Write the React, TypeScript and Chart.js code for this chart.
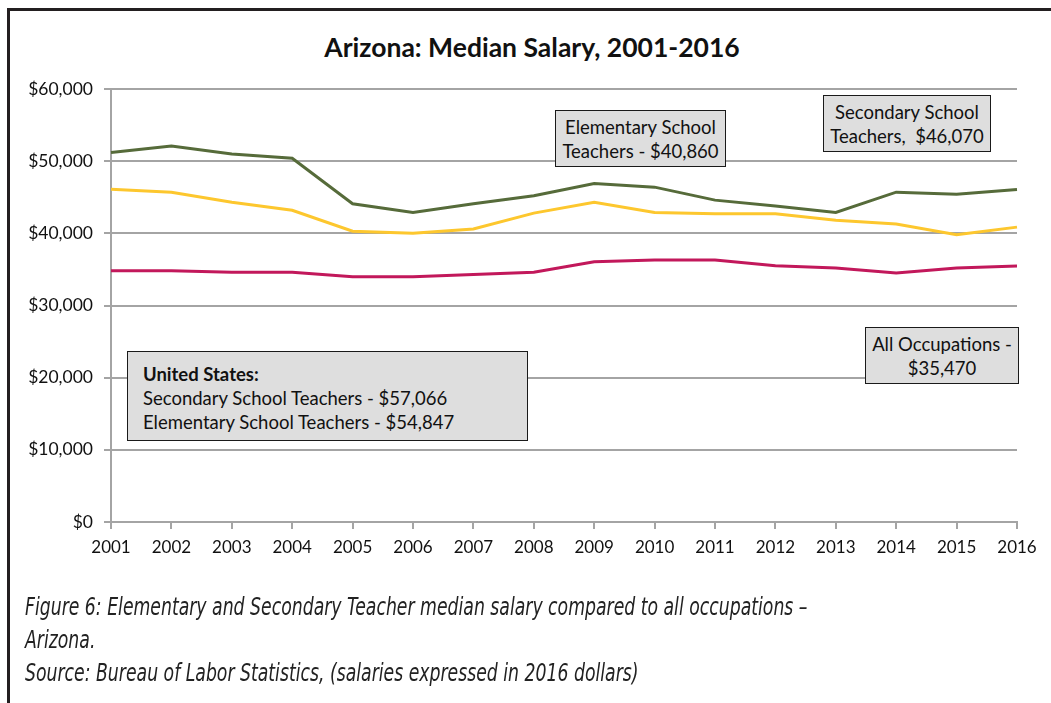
import React, { useEffect, useRef } from "react";
import { Chart, registerables } from "chart.js";

Chart.register(...registerables);

const years = ["2001","2002","2003","2004","2005","2006","2007","2008","2009","2010","2011","2012","2013","2014","2015","2016"];
const secondary = [51200, 52100, 51000, 50400, 44100, 42900, 44100, 45200, 46900, 46400, 44600, 43800, 42900, 45700, 45400, 46070];
const elementary = [46100, 45700, 44300, 43200, 40300, 40000, 40600, 42800, 44300, 42900, 42700, 42700, 41800, 41300, 39800, 40860];
const allOccupations = [34800, 34800, 34600, 34600, 34000, 34000, 34300, 34600, 36050, 36300, 36300, 35500, 35200, 34500, 35200, 35470];
const yTicks = [0, 10000, 20000, 30000, 40000, 50000, 60000];

const FONT = "Lato, 'Open Sans', sans-serif";

const boxStyle: React.CSSProperties = {
  position: "absolute",
  background: "#dedede",
  border: "1.5px solid #1a1a1a",
  boxSizing: "border-box",
  fontFamily: FONT,
  fontSize: 18.5,
  color: "#111",
  lineHeight: "24px",
  whiteSpace: "nowrap",
};

export default function App() {
  const ref = useRef<HTMLCanvasElement | null>(null);

  useEffect(() => {
    if (!ref.current) return;
    const chart = new Chart(ref.current, {
      type: "line",
      data: {
        labels: years,
        datasets: [
          { label: "Secondary School Teachers", data: secondary, borderColor: "#566b3a", borderWidth: 3, pointRadius: 0, tension: 0 },
          { label: "Elementary School Teachers", data: elementary, borderColor: "#fdc72e", borderWidth: 3, pointRadius: 0, tension: 0 },
          { label: "All Occupations", data: allOccupations, borderColor: "#c2185b", borderWidth: 3, pointRadius: 0, tension: 0 },
        ],
      },
      options: {
        responsive: false,
        animation: false,
        devicePixelRatio: 1,
        layout: { padding: { left: 0, right: 34, top: 89, bottom: 121 } },
        plugins: { legend: { display: false }, title: { display: false }, tooltip: { enabled: false } },
        scales: {
          x: {
            type: "category",
            offset: false,
            grid: { display: true, drawOnChartArea: false, drawTicks: true, tickLength: 7, color: "#a4a4a4", lineWidth: 2 },
            border: { display: true, color: "#a4a4a4", width: 2 },
            ticks: { color: "#111", font: { family: FONT, size: 17 }, padding: 8, maxRotation: 0, autoSkip: false },
            afterFit: (s: any) => { s.height = 60; },
          },
          y: {
            min: 0,
            max: 60000,
            afterBuildTicks: (s: any) => { s.ticks = yTicks.map((v) => ({ value: v })); },
            grid: { color: "#a4a4a4", lineWidth: 2, tickLength: 7, drawTicks: true },
            border: { display: true, color: "#a4a4a4", width: 2 },
            ticks: {
              color: "#111",
              font: { family: FONT, size: 17.5 },
              padding: 11,
              callback: (v: any) => "$" + Number(v).toLocaleString("en-US"),
            },
            afterFit: (s: any) => { s.width = 111; },
          },
        },
      },
    });
    return () => chart.destroy();
  }, []);

  return (
    <div style={{ position: "fixed", left: 0, top: 0, width: 1051, height: 703, overflow: "hidden", background: "#fff" }}>
      <div style={{ position: "absolute", left: 7, top: 8, width: 2000, height: 2000, borderLeft: "3px solid #231f20", borderTop: "3px solid #231f20" }} />
      <div style={{ position: "absolute", left: 0, top: 32, width: 1064, textAlign: "center", fontFamily: FONT, fontWeight: 700, fontSize: 26.5, lineHeight: "30px", color: "#111" }}>
        Arizona: Median Salary, 2001-2016
      </div>
      <canvas ref={ref} width={1051} height={703} style={{ position: "absolute", left: 0, top: 0, width: 1051, height: 703 }} />
      <div style={{ ...boxStyle, left: 555, top: 110, width: 171, height: 57, textAlign: "center", paddingTop: 4 }}>
        Elementary School<br />Teachers - $40,860
      </div>
      <div style={{ ...boxStyle, left: 823, top: 95, width: 168, height: 57, textAlign: "center", paddingTop: 4 }}>
        Secondary School<br />Teachers,&nbsp; $46,070
      </div>
      <div style={{ ...boxStyle, left: 865, top: 327, width: 154, height: 57, textAlign: "center", paddingTop: 4 }}>
        All Occupations -<br />$35,470
      </div>
      <div style={{ ...boxStyle, left: 127, top: 351, width: 401, height: 90, paddingLeft: 15, paddingTop: 10 }}>
        <b>United States:</b><br />Secondary School Teachers - $57,066<br />Elementary School Teachers - $54,847
      </div>
      <div style={{ position: "absolute", left: 25, top: 591, transform: "scaleX(0.8)", transformOrigin: "left top", fontFamily: "'DejaVu Sans Condensed', sans-serif", fontStretch: "condensed", fontStyle: "italic", fontSize: 24, lineHeight: "33px", color: "#222", whiteSpace: "nowrap" }}>
        Figure 6: Elementary and Secondary Teacher median salary compared to all occupations –<br />
        Arizona.<br />
        Source: Bureau of Labor Statistics, (salaries expressed in 2016 dollars)
      </div>
    </div>
  );
}
